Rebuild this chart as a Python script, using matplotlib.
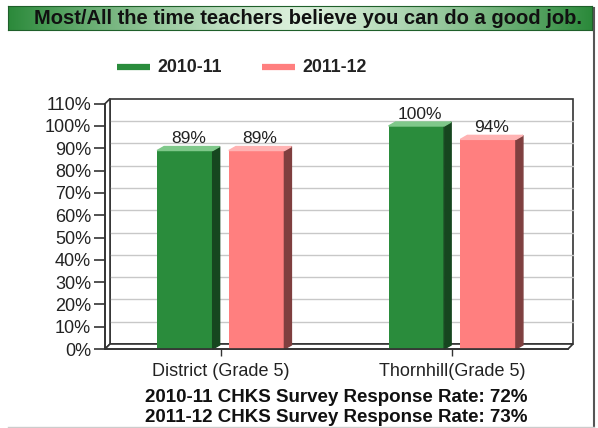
import numpy as np
import matplotlib
matplotlib.use("Agg")
import matplotlib.pyplot as plt
from matplotlib.lines import Line2D
from matplotlib.patches import Rectangle

plt.rcParams['font.family'] = ['Liberation Sans', 'DejaVu Sans']

# data
title = "Most/All the time teachers believe you can do a good job."
categories = ["District (Grade 5)", "Thornhill(Grade 5)"]
series = ["2010-11", "2011-12"]
values_2010 = [89, 100]
values_2011 = [89, 94]
yticks = list(range(0, 111, 10))
footer = ["2010-11 CHKS Survey Response Rate: 72%",
          "2011-12 CHKS Survey Response Rate: 73%"]

W, H = 598, 428
fig = plt.figure(figsize=(W / 100, H / 100), dpi=100)
fig.patch.set_facecolor("white")


def fx(x):
    return x / W


def fy(y):
    return 1 - y / H


# title bar with green gradient
tax = fig.add_axes([fx(8), fy(30), fx(584), 24 / H])
grad = np.abs(np.linspace(-1, 1, 300)) ** 1.3
c_edge = np.array([0.17, 0.54, 0.23])
c_mid = np.array([0.86, 0.94, 0.86])
img = c_mid[None, :] * (1 - grad[:, None]) + c_edge[None, :] * grad[:, None]
tax.imshow(img[None, :, :], aspect="auto", extent=[0, 1, 0, 1])
tax.set_xlim(0, 1)
tax.set_ylim(0, 1)
tax.set_xticks([])
tax.set_yticks([])
for s in tax.spines.values():
    s.set_color("#1f5f2a")
    s.set_linewidth(0.8)
tax.text(0.514, 0.5, title, ha="center", va="center", fontsize=14.5,
         fontweight="bold", color="#111111")

# legend
leg_colors = ["#2a8c3c", "#ff7f7f"]
leg_x = [117, 262]
for lx, col, lab in zip(leg_x, leg_colors, series):
    fig.add_artist(Line2D([fx(lx), fx(lx + 33)], [fy(67), fy(67)],
                          color=col, lw=4.5, solid_capstyle="butt"))
    fig.text(fx(lx + 40), fy(67), lab, ha="left", va="center",
             fontsize=12.8, fontweight="bold", color="#222222")

# main axes (front plane)
ax = fig.add_axes([fx(105), fy(349), fx(463), (349 - 103.7) / H])
ax.set_xlim(-0.5, 1.5)
ax.set_ylim(0, 110)
ax.set_facecolor("none")

px_x = 231.0
px_y = (349 - 103.7) / 110
wdx, wdy = 5 / px_x, 5 / px_y
bdx, bdy = 7 / px_x, 4 / px_y

edge = "#333333"
# back wall
ax.add_patch(Rectangle((-0.5 + wdx, wdy), 2, 110, facecolor="white",
                       edgecolor=edge, lw=1.2, clip_on=False, zorder=0))
for t in yticks[1:-1]:
    ax.plot([-0.5 + wdx, 1.5 + wdx], [t + wdy, t + wdy], color="#c8c8c8",
            lw=1, clip_on=False, zorder=0.5)
    ax.plot([-0.5, -0.5 + wdx], [t, t + wdy], color="#c8c8c8",
            lw=1, clip_on=False, zorder=0.5)
# left wall
ax.fill([-0.5, -0.5 + wdx, -0.5 + wdx, -0.5], [0, wdy, 110 + wdy, 110],
        facecolor="white", edgecolor=edge, lw=1.2, clip_on=False, zorder=0.6)
# floor
ax.fill([-0.5, 1.5, 1.5 + wdx, -0.5 + wdx], [0, 0, wdy, wdy],
        facecolor="white", edgecolor=edge, lw=1.2, clip_on=False, zorder=0.6)

# bars
x = np.arange(len(categories))
width = 0.24
offs = [-0.155, 0.155]
fronts = ["#2a8c3c", "#ff7f7f"]
sides = ["#16461f", "#7f3f3f"]
tops = ["#7fc88a", "#ffb3b3"]
for vals, off, fc, sc, tc in zip([values_2010, values_2011], offs,
                                 fronts, sides, tops):
    bars = ax.bar(x + off, vals, width, color=fc, zorder=2, clip_on=False)
    for b, v in zip(bars, vals):
        x0 = b.get_x()
        x1 = x0 + b.get_width()
        ax.fill([x1, x1 + bdx, x1 + bdx, x1], [0, bdy, v + bdy, v],
                color=sc, zorder=2, clip_on=False)
        ax.fill([x0, x0 + bdx, x1 + bdx, x1], [v, v + bdy, v + bdy, v],
                color=tc, zorder=2, clip_on=False)
        ax.text((x0 + x1 + bdx) / 2, v + bdy + 0.2, f"{v}%", ha="center",
                va="bottom", fontsize=12.5, color="#222222", zorder=3)

# axes styling
for s in ["top", "right"]:
    ax.spines[s].set_visible(False)
ax.spines["left"].set_color(edge)
ax.spines["bottom"].set_color(edge)
ax.spines["left"].set_linewidth(1.2)
ax.spines["bottom"].set_linewidth(1.2)
ax.set_yticks(yticks)
ax.set_yticklabels([f"{t}%" for t in yticks])
ax.tick_params(axis="y", length=8, width=1.2, color=edge, labelsize=13,
               pad=2, labelcolor="#222222")
ax.set_xticks(x)
ax.set_xticklabels(categories)
ax.tick_params(axis="x", length=5, width=1, color=edge, labelsize=13,
               pad=5, labelcolor="#222222")

# footer
for i, line in enumerate(footer):
    fig.text(fx(336), fy(397 + 21 * i), line, ha="center", va="center",
             fontsize=13.5, fontweight="bold", color="#111111")

# outer frame
fig.add_artist(Line2D([fx(594), fx(594)], [fy(8), fy(428)], color="#555555", lw=1.5))
fig.add_artist(Line2D([fx(8), fx(594)], [fy(426.5), fy(426.5)], color="#cccccc", lw=1))

fig.savefig("out.png", dpi=100)
